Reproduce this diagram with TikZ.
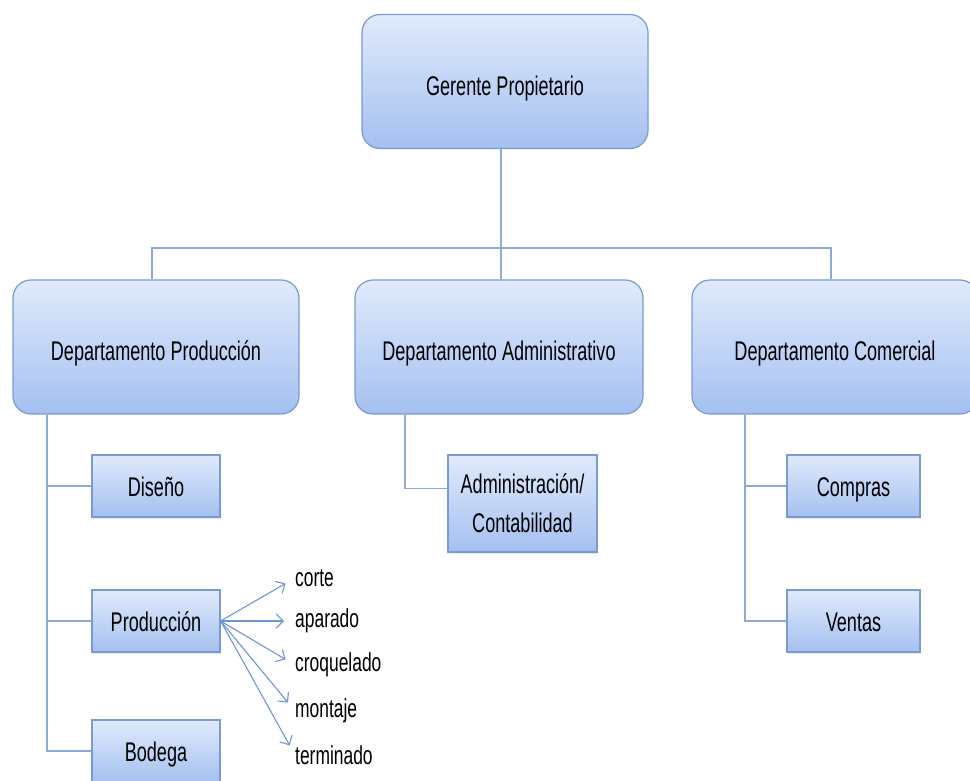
\documentclass[tikz,border=0pt]{standalone}
\usepackage{fontspec}
\setmainfont[FakeStretch=0.67]{Liberation Sans}
\usetikzlibrary{arrows.meta,shadows}
\definecolor{topc}{RGB}{224,234,252}
\definecolor{botc}{RGB}{164,192,240}
\definecolor{bordc}{RGB}{120,155,210}
\definecolor{linec}{RGB}{140,170,215}
\definecolor{arrc}{RGB}{110,150,210}
\tikzset{
  big/.style={draw=bordc, line width=1.2pt, rounded corners=18pt, top color=topc, bottom color=botc,
    minimum height=134pt, font=\fontsize{27}{30}\selectfont, inner sep=2pt,
    text height=27pt, text depth=0pt},
  smallbase/.style={draw=bordc, line width=1.2pt, top color=topc, bottom color=botc,
    minimum height=62pt, font=\fontsize{27}{34}\selectfont,
    drop shadow={opacity=0.18, shadow xshift=1pt, shadow yshift=-2pt}},
  small/.style={smallbase, text height=20pt, text depth=0pt},
  link/.style={draw=linec, line width=1.6pt},
  lbl/.style={anchor=west, font=\fontsize{26}{30}\selectfont, inner sep=0pt},
  arr/.style={draw=arrc, line width=1.1pt, -{Straight Barb[length=7pt,width=14pt]}}
}
\begin{document}
\begin{tikzpicture}[x=1pt,y=-1pt]
\useasboundingbox (0,0) rectangle (970,780);
% main boxes
\node[big, minimum width=286pt] (G) at (505,81.5) {Gerente Propietario};
\node[big, minimum width=286pt] (DP) at (156,347) {Departamento Producción};
\node[big, minimum width=288pt] (DA) at (499,347) {Departamento Administrativo};
\node[big, minimum width=286pt] (DC) at (835,347) {Departamento Comercial};
% trunk
\coordinate (bus) at (501,248);
\draw[link] (G.south -| bus) -- (bus);
\draw[link] (DP.north -| 152,0) |- (bus) -| (DC.north -| 831,0);
\draw[link] (bus) -- (DA.north -| bus);
% children
\node[small, minimum width=128pt] (Dis) at (156,486) {Diseño};
\node[small, minimum width=128pt] (Prod) at (156,621) {Producción};
\node[small, minimum width=128pt] (Bod) at (156,751) {Bodega};
\node[smallbase, align=center, font=\fontsize{27}{39}\selectfont, minimum width=149pt, minimum height=97pt] (Adm) at (522.5,503.5) {Administración/\\Contabilidad};
\node[small, minimum width=133pt] (Com) at (853.5,486) {Compras};
\node[small, minimum width=133pt] (Ven) at (853.5,621) {Ventas};
% connectors left
\draw[link] (DP.south -| 47,0) |- (Bod.west);
\draw[link] (Dis.west -| 47,0) -- (Dis.west);
\draw[link] (Prod.west -| 47,0) -- (Prod.west);
% admin
\draw[link] (DA.south -| 405,0) |- ([yshift=15pt]Adm.west);
% comercial
\draw[link] (DC.south -| 745,0) |- (Ven.west);
\draw[link] (Com.west -| 745,0) -- (Com.west);
% labels
\node[lbl] (l1) at (295,578) {corte};
\node[lbl] (l2) at (295,621) {aparado};
\node[lbl] (l3) at (295,665) {croquelado};
\node[lbl] (l4) at (295,711) {montaje};
\node[lbl] (l5) at (295,755) {terminado};
\foreach \t in {l1,l2,l3,l4,l5}{
  \draw[arr, shorten >=11pt] (Prod.east) -- (\t.west);
}
\end{tikzpicture}
\end{document}
